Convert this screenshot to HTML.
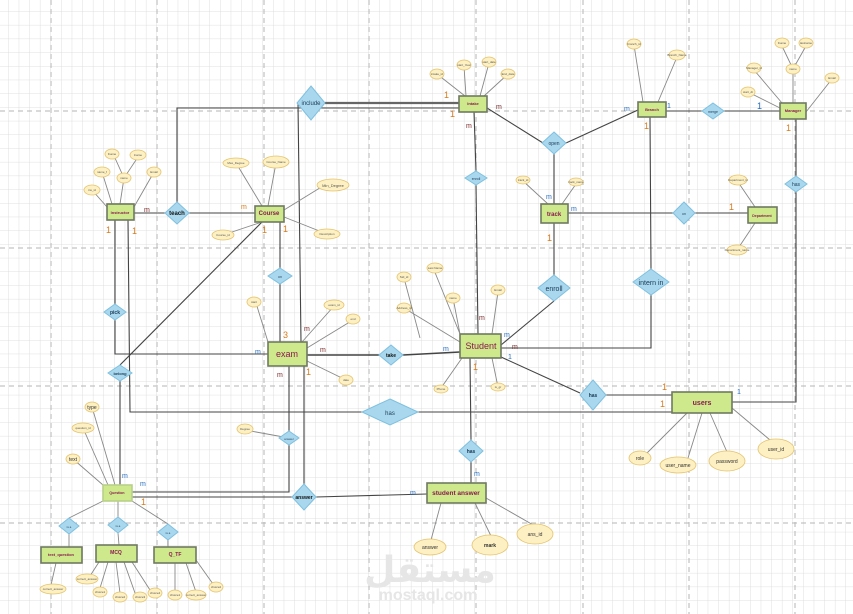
<!DOCTYPE html>
<html><head><meta charset="utf-8"><style>
html,body{margin:0;padding:0;background:#fff;}
svg{display:block;font-family:"Liberation Sans",sans-serif;}
.e{fill:#cde98b;stroke:#6f7a62;stroke-width:1.6}
.d{fill:#a9d8ee;stroke:#7ec0e0;stroke-width:1}
.a{fill:#fdf0c2;stroke:#e4c36e;stroke-width:.8}
.l{stroke:#444;stroke-width:1.1;fill:none}
.g{stroke:#888;stroke-width:.9;fill:none}
.t{fill:#8b1a4f;font-weight:bold;text-anchor:middle}
.dt{fill:#1d3a55;text-anchor:middle}
.at{fill:#555;font-size:3px;text-anchor:middle}
.c1{fill:#d77a1b;font-size:9px}
.cm{fill:#7a2a2a;font-size:7px}
.cb{fill:#2a6fc0;font-size:7px}
</style></head><body>
<svg width="853" height="614" viewBox="0 0 853 614" xmlns="http://www.w3.org/2000/svg">
<defs>
<pattern id="gr" width="10.6" height="13.7" patternUnits="userSpaceOnUse" x="-2" y="-2">
<path d="M10.6 0V13.7M0 13.7H10.6" stroke="#d8d8d8" stroke-width=".8" fill="none"/>
</pattern>
</defs>
<rect width="853" height="614" fill="#fff"/>
<rect width="853" height="614" fill="url(#gr)"/>
<g stroke="#b5b5b5" stroke-width="1" stroke-dasharray="5,4">
<path d="M51 0V614M157 0V614M264 0V614M369 0V614M476 0V614M583 0V614M689 0V614M795 0V614"/>
<path d="M0 111H853M0 248H853M0 386H853M0 523H853"/>
</g>
<text x="430" y="582" font-size="36" fill="#e6e6e6" text-anchor="middle" font-family="'Liberation Sans','DejaVu Sans',sans-serif" font-weight="bold">مستقل</text>
<text x="428" y="600" font-size="16" fill="#e6e6e6" text-anchor="middle" font-weight="bold">mostaql.com</text>

<g class="l">
<path d="M134 213H255"/>
<path d="M177 202V108H459"/>
<path d="M325 103H459" stroke-width="2.2" stroke="#666"/>
<path d="M298 103L301 342"/>
<path d="M304 366V484"/>
<path d="M280 222V268M280 284V342"/>
<path d="M115 220V304M115 320V354H268"/>
<path d="M128 220L130 412H362M418 412H672"/>
<path d="M120 381V485"/>
<path d="M132 492H289V445M289 431V366"/>
<path d="M132 497H292M316 497L427 494"/>
<path d="M307 355H379M403 355L460 352" stroke-width="1.6"/>
<path d="M474 112L476 171M476 185L478 334"/>
<path d="M487 108L543 143M566 143L638 110"/>
<path d="M554 154V204"/>
<path d="M568 213H673M695 213H748"/>
<path d="M554 223V275M554 301L501 345"/>
<path d="M666 111H780"/>
<path d="M650 117L651 269M651 295V348H501"/>
<path d="M796 119V176M796 192V402H732"/>
<path d="M501 357L580 393M606 395H672"/>
<path d="M470 358L471 440M471 462V483"/>
<path d="M262 222L120 365"/>
</g>
<g class="g">
<path d="M103 501L69 518M118 501V517M132 501L168 524"/>
<path d="M69 534V547M118 533L119 545M168 540V547"/>
<path d="M245 430L289 438"/>
</g>

<g class="g">
<path d="M107 207L92 190M112 204L102 172M120 204L124 178M124 178L115 158M124 178L138 157M134 207L154 172"/>
<path d="M262 206L236 163M268 206L276 163M284 210L323 186M284 217L327 234M262 222L223 235"/>
<path d="M465 96L437 74M466 96L464 66M480 96L489 63M484 96L508 74"/>
<path d="M643 102L634 45M658 102L677 57"/>
<path d="M780 108L748 92M782 103L754 70M793 103V70M793 69L782 46M793 69L806 46M806 112L832 79"/>
<path d="M548 204L523 181M562 204L576 184"/>
<path d="M755 207L738 182M755 223L737 250"/>
<path d="M268 342L256 303M302 342L334 306M307 348L353 320M307 361L346 380"/>
<path d="M460 342L404 308M460 334L434 270M460 334L453 298M492 334L498 292M420 338L404 278M462 358L441 388M492 358L498 387"/>
<path d="M687 413L646 454M702 413L688 458M710 413L727 452M732 408L770 440"/>
<path d="M441 503L431 540M475 503L491 536M486 498L535 526"/>
<path d="M103 485L73 459M108 485L83 428M115 485L92 407"/>
<path d="M56 563L51 585"/>
<path d="M99 562L90 576M108 562L100 588M116 562L120 593M124 562L135 593M132 562L150 590"/>
<path d="M175 563V592M186 563L196 592M196 560L213 584"/>
</g>

<g class="a">
<ellipse cx="92" cy="190" rx="8" ry="5"/><ellipse cx="102" cy="172" rx="8" ry="5"/><ellipse cx="112" cy="154" rx="7" ry="5"/><ellipse cx="138" cy="155" rx="8" ry="5"/><ellipse cx="124" cy="178" rx="7" ry="5"/><ellipse cx="154" cy="172" rx="7" ry="5"/>
<ellipse cx="236" cy="163" rx="13" ry="5"/><ellipse cx="276" cy="162" rx="13" ry="6"/><ellipse cx="333" cy="185" rx="16" ry="6"/><ellipse cx="223" cy="235" rx="11" ry="5"/><ellipse cx="327" cy="234" rx="13" ry="5"/>
<ellipse cx="437" cy="74" rx="7" ry="5"/><ellipse cx="464" cy="65" rx="7" ry="5"/><ellipse cx="489" cy="62" rx="7" ry="5"/><ellipse cx="508" cy="74" rx="7" ry="5"/>
<ellipse cx="634" cy="44" rx="7" ry="5"/><ellipse cx="677" cy="55" rx="8" ry="5"/>
<ellipse cx="782" cy="43" rx="7" ry="5"/><ellipse cx="806" cy="43" rx="7" ry="5"/><ellipse cx="793" cy="69" rx="7" ry="5"/><ellipse cx="754" cy="68" rx="7" ry="5"/><ellipse cx="748" cy="92" rx="7" ry="5"/><ellipse cx="832" cy="78" rx="7" ry="5"/>
<ellipse cx="523" cy="180" rx="7" ry="4"/><ellipse cx="576" cy="182" rx="7" ry="4"/>
<ellipse cx="738" cy="180" rx="9" ry="5"/><ellipse cx="737" cy="250" rx="10" ry="5"/>
<ellipse cx="254" cy="302" rx="7" ry="5"/><ellipse cx="334" cy="305" rx="10" ry="5"/><ellipse cx="353" cy="319" rx="7" ry="5"/><ellipse cx="346" cy="380" rx="7" ry="5"/>
<ellipse cx="245" cy="429" rx="8" ry="5"/>
<ellipse cx="404" cy="277" rx="7" ry="5"/><ellipse cx="435" cy="268" rx="8" ry="5"/><ellipse cx="453" cy="298" rx="7" ry="5"/><ellipse cx="498" cy="290" rx="7" ry="5"/><ellipse cx="404" cy="308" rx="7" ry="5"/><ellipse cx="441" cy="389" rx="7" ry="4"/><ellipse cx="498" cy="387" rx="7" ry="4"/>
<ellipse cx="640" cy="458" rx="11" ry="7"/><ellipse cx="678" cy="465" rx="18" ry="8"/><ellipse cx="727" cy="461" rx="18" ry="10"/><ellipse cx="776" cy="449" rx="18" ry="10"/>
<ellipse cx="430" cy="547" rx="16" ry="8"/><ellipse cx="490" cy="545" rx="18" ry="10"/><ellipse cx="535" cy="534" rx="18" ry="10"/>
<ellipse cx="92" cy="407" rx="7" ry="5"/><ellipse cx="83" cy="428" rx="11" ry="5"/><ellipse cx="73" cy="459" rx="7" ry="5"/>
<ellipse cx="53" cy="589" rx="13" ry="5"/>
<ellipse cx="87" cy="579" rx="11" ry="5"/><ellipse cx="100" cy="592" rx="7" ry="5"/><ellipse cx="120" cy="597" rx="7" ry="5"/><ellipse cx="140" cy="597" rx="7" ry="5"/><ellipse cx="155" cy="593" rx="7" ry="5"/>
<ellipse cx="175" cy="595" rx="7" ry="5"/><ellipse cx="196" cy="595" rx="10" ry="5"/><ellipse cx="216" cy="587" rx="7" ry="5"/>
</g>
<g class="at">
<text x="92" y="191">ins_id</text><text x="102" y="173">name_f</text><text x="112" y="155">fname</text><text x="138" y="156">lname</text><text x="124" y="179">name</text><text x="154" y="173">Email</text>
<text x="236" y="164">Max_Degree</text><text x="276" y="163">Course_Name</text><text x="333" y="187" style="font-size:4px">Min_Degree</text><text x="223" y="236">Course_id</text><text x="327" y="235">Description</text>
<text x="437" y="75">intake_id</text><text x="464" y="66">start_Year</text><text x="489" y="63">start_date</text><text x="508" y="75">End_date</text>
<text x="634" y="45">branch_id</text><text x="677" y="56">Branch_Name</text>
<text x="782" y="44">fname</text><text x="806" y="44">lastname</text><text x="793" y="70">name</text><text x="754" y="69">Manager_id</text><text x="748" y="93">start_dt</text><text x="832" y="79">Email</text>
<text x="523" y="181">track_id</text><text x="576" y="183">track_name</text>
<text x="738" y="181">Department_id</text><text x="737" y="251">Department_name</text>
<text x="254" y="303">start</text><text x="334" y="306">exam_id</text><text x="353" y="320">end</text><text x="346" y="381">date</text><text x="245" y="430">Degree</text>
<text x="404" y="278">Std_id</text><text x="435" y="269">Last Name</text><text x="453" y="299">name</text><text x="498" y="291">Email</text><text x="404" y="309">Address_id</text><text x="441" y="390">Phone</text><text x="498" y="388">is_gr</text>
<text x="53" y="590">correct_answer</text><text x="87" y="580">correct_answer</text><text x="100" y="593">choice1</text><text x="120" y="598">choice2</text><text x="140" y="598">choice3</text><text x="155" y="594">choice4</text>
<text x="175" y="596">choice1</text><text x="196" y="596">correct_answer</text><text x="216" y="588">choice2</text>
<text x="83" y="429">question_id</text>
</g>
<g fill="#333" text-anchor="middle" font-size="5">
<text x="92" y="409">type</text><text x="73" y="461">text</text>
<text x="640" y="460">role</text><text x="678" y="467">user_name</text><text x="727" y="463">password</text><text x="776" y="451">user_id</text>
<text x="430" y="549">answer</text><text x="490" y="547" font-weight="bold">mark</text><text x="535" y="536">ans_id</text>
</g>

<g class="d">
<path d="M311 86L325 103L311 120L297 103Z"/>
<path d="M177 202L189 213L177 224L165 213Z"/>
<path d="M554 132L566 143L554 154L542 143Z"/>
<path d="M476 171L487 178L476 185L465 178Z"/>
<path d="M713 103L724 111L713 119L702 111Z"/>
<path d="M684 202L695 213L684 224L673 213Z"/>
<path d="M796 176L807 184L796 192L785 184Z"/>
<path d="M554 275L570 288L554 301L538 288Z"/>
<path d="M651 269L669 282L651 295L633 282Z"/>
<path d="M280 268L292 276L280 284L268 276Z"/>
<path d="M115 304L126 312L115 320L104 312Z"/>
<path d="M120 365L132 373L120 381L108 373Z"/>
<path d="M391 345L403 355L391 365L379 355Z"/>
<path d="M390 399L418 412L390 425L362 412Z"/>
<path d="M593 380L606 395L593 410L580 395Z"/>
<path d="M471 440L483 451L471 462L459 451Z"/>
<path d="M304 484L316 497L304 510L292 497Z"/>
<path d="M289 431L299 438L289 445L279 438Z"/>
<path d="M69 518L79 526L69 534L59 526Z"/>
<path d="M118 517L128 525L118 533L108 525Z"/>
<path d="M168 524L178 532L168 540L158 532Z"/>
</g>
<g class="dt">
<text x="311" y="105" font-size="6">include</text>
<text x="177" y="215" font-size="6" font-weight="bold" fill="#111">teach</text>
<text x="554" y="145" font-size="5">open</text>
<text x="476" y="180" font-size="3.5">enroll</text>
<text x="713" y="113" font-size="3.5">merge</text>
<text x="684" y="215" font-size="3.5">on</text>
<text x="796" y="186" font-size="5">has</text>
<text x="554" y="291" font-size="7">enroll</text>
<text x="651" y="285" font-size="7">intern in</text>
<text x="280" y="278" font-size="3.5">on</text>
<text x="115" y="314" font-size="5" font-weight="bold">pick</text>
<text x="120" y="375" font-size="4" font-weight="bold">belong</text>
<text x="391" y="357" font-size="5" font-weight="bold" fill="#111">take</text>
<text x="390" y="415" font-size="6">has</text>
<text x="593" y="397" font-size="5" font-weight="bold">has</text>
<text x="471" y="453" font-size="5" font-weight="bold">has</text>
<text x="304" y="499" font-size="5" font-weight="bold" fill="#111">answer</text>
<text x="289" y="440" font-size="3">answer</text>
<text x="69" y="528" font-size="3">is a</text><text x="118" y="527" font-size="3">is a</text><text x="168" y="534" font-size="3">is a</text>
</g>

<g class="e">
<rect x="107" y="204" width="27" height="16"/>
<rect x="255" y="206" width="29" height="16"/>
<rect x="459" y="96" width="28" height="16"/>
<rect x="638" y="102" width="28" height="15"/>
<rect x="780" y="103" width="26" height="16"/>
<rect x="541" y="204" width="27" height="19"/>
<rect x="748" y="207" width="29" height="16"/>
<rect x="268" y="342" width="39" height="24"/>
<rect x="460" y="334" width="41" height="24"/>
<rect x="672" y="392" width="60" height="21"/>
<rect x="427" y="483" width="59" height="20"/>
<rect x="103" y="485" width="29" height="16" style="stroke:#b9d08a"/>
<rect x="41" y="547" width="41" height="16"/>
<rect x="96" y="545" width="41" height="17"/>
<rect x="154" y="547" width="42" height="16"/>
</g>
<g class="t">
<text x="120" y="214" font-size="4">Instructor</text>
<text x="269" y="215" font-size="6">Course</text>
<text x="473" y="105" font-size="4">Intake</text>
<text x="652" y="111" font-size="4">Branch</text>
<text x="793" y="112" font-size="4">Manager</text>
<text x="554" y="216" font-size="6">track</text>
<text x="762" y="217" font-size="3.5">Department</text>
<text x="287" y="357" font-size="9" font-weight="normal">exam</text>
<text x="481" y="349" font-size="9" font-weight="normal">Student</text>
<text x="702" y="405" font-size="7">users</text>
<text x="456" y="495" font-size="6.5">student answer</text>
<text x="117" y="494" font-size="3.5">Question</text>
<text x="61" y="556" font-size="4">text_question</text>
<text x="116" y="554" font-size="5">MCQ</text>
<text x="175" y="556" font-size="5">Q_TF</text>
</g>

<g>
<text class="c1" x="106" y="233">1</text><text class="c1" x="132" y="234">1</text>
<text class="cm" x="144" y="212">m</text><text class="c1" x="241" y="209" style="font-size:7px">m</text>
<text class="c1" x="262" y="233">1</text><text class="c1" x="283" y="232">1</text>
<text class="c1" x="444" y="98">1</text><text class="c1" x="450" y="117">1</text>
<text class="cm" x="496" y="109">m</text><text class="cm" x="466" y="128">m</text>
<text class="cb" x="624" y="111">m</text><text class="cb" x="667" y="108">1</text>
<text class="c1" x="644" y="129">1</text><text class="cb" x="757" y="109" style="font-size:9px">1</text>
<text class="c1" x="786" y="131">1</text>
<text class="cb" x="546" y="199">m</text><text class="cb" x="571" y="211">m</text>
<text class="c1" x="729" y="210">1</text><text class="c1" x="547" y="241">1</text>
<text class="c1" x="283" y="338">3</text><text class="cm" x="304" y="331">m</text>
<text class="cb" x="255" y="354">m</text><text class="cm" x="320" y="352">m</text>
<text class="cm" x="277" y="377">m</text><text class="c1" x="306" y="375">1</text>
<text class="cb" x="443" y="351">m</text><text class="cm" x="479" y="320">m</text>
<text class="cb" x="504" y="337">m</text><text class="cm" x="512" y="349">m</text>
<text class="cb" x="508" y="359">1</text><text class="c1" x="473" y="370">1</text>
<text class="c1" x="662" y="390">1</text><text class="c1" x="660" y="407">1</text>
<text class="cb" x="737" y="394">1</text>
<text class="cb" x="474" y="476">m</text><text class="cb" x="410" y="495">m</text>
<text class="cb" x="122" y="478">m</text><text class="cb" x="140" y="486">m</text>
<text class="c1" x="141" y="505">1</text>
</g>
</svg>
</body></html>
